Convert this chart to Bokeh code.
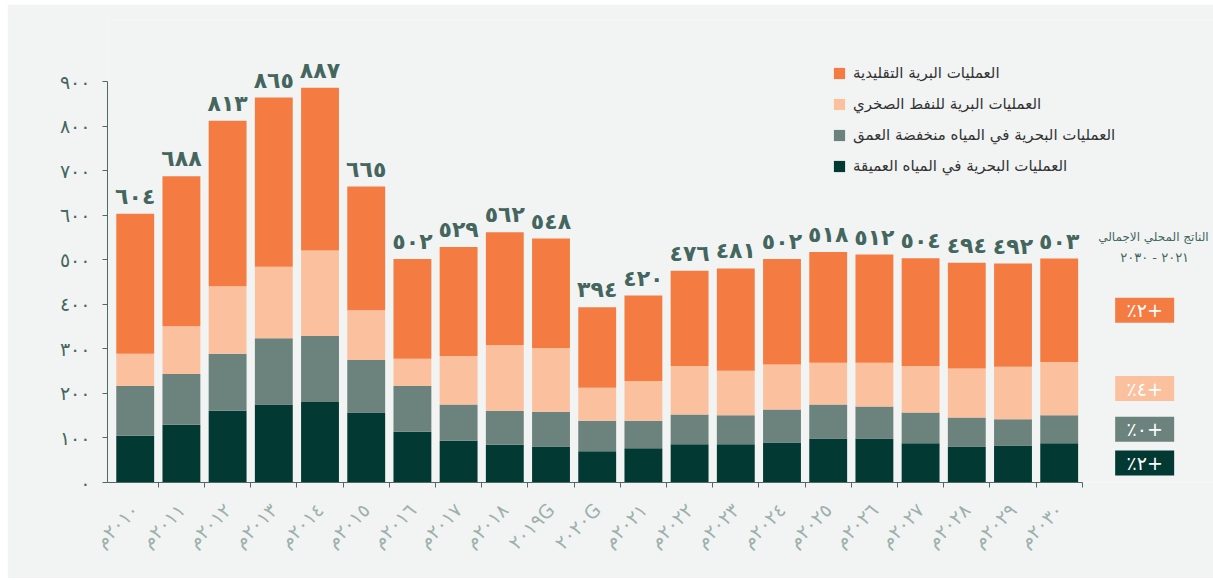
from math import pi
from bokeh.plotting import figure
from bokeh.models import Range1d, FixedTicker, Legend, LegendItem, ColumnDataSource
from bokeh.embed import file_html
from bokeh.resources import INLINE
from bokeh.core.properties import value

# ---------------- data ----------------
years = ["٢٠١٠م", "٢٠١١م", "٢٠١٢م", "٢٠١٣م", "٢٠١٤م", "٢٠١٥م", "٢٠١٦م",
         "٢٠١٧م", "٢٠١٨م", "٢٠١٩G", "٢٠٢٠G", "٢٠٢١م", "٢٠٢٢م", "٢٠٢٣م",
         "٢٠٢٤م", "٢٠٢٥م", "٢٠٢٦م", "٢٠٢٧م", "٢٠٢٨م", "٢٠٢٩م", "٢٠٣٠م"]

deep_water = [105, 130, 161, 175, 181, 157, 114, 94, 85, 81, 70, 77, 86, 86, 90, 99, 99, 88, 81, 83, 88]
shallow_water = [112, 114, 128, 149, 148, 118, 103, 81, 76, 78, 69, 62, 67, 65, 74, 76, 72, 69, 65, 59, 63]
shale_oil = [72, 107, 152, 161, 192, 112, 61, 109, 148, 143, 74, 89, 109, 100, 101, 94, 98, 105, 110, 118, 120]
conventional = [315, 337, 372, 380, 366, 278, 224, 245, 253, 246, 181, 192, 214, 230, 237, 249, 243, 242, 238, 232, 232]

series_names = ["العمليات البحرية في المياه العميقة",
                "العمليات البحرية في المياه منخفضة العمق",
                "العمليات البرية للنفط الصخري",
                "العمليات البرية التقليدية"]
growth_labels = ["٪٢+", "٪٠+", "٪٤+", "٪٢+"]   # same order as series_names
growth_title = ["الناتج المحلي الاجمالي", "٢٠٢١ - ٢٠٣٠"]
y_ticks = [0, 100, 200, 300, 400, 500, 600, 700, 800, 900]

# ---------------- style ----------------
BG = "#f2f4f3"
COLORS = ["#033933", "#6c827d", "#fbc19f", "#f47c43"]
AXIS = "#4f6a64"
LABEL = "#44665e"
FONT_NAME = "DejaVu Sans"
FONT = value(FONT_NAME)


def ar(n):
    return str(n).translate(str.maketrans("0123456789", "٠١٢٣٤٥٦٧٨٩"))


keys = ["deep", "shallow", "shale", "conv"]
idx = list(range(len(years)))
totals = [a + b + c + d for a, b, c, d in zip(deep_water, shallow_water, shale_oil, conventional)]
src = ColumnDataSource(dict(x=idx, deep=deep_water, shallow=shallow_water, shale=shale_oil,
                            conv=conventional, total=totals, lab=[ar(t) for t in totals]))

p = figure(width=1206, height=574, x_range=Range1d(-0.6, 23.34), y_range=Range1d(0, 1038),
           output_backend="svg", toolbar_location=None, margin=(4, 0, 0, 7),
           min_border_left=100, min_border_right=0, min_border_top=16, min_border_bottom=96,
           background_fill_color=BG, border_fill_color=BG, outline_line_color=None)
p.grid.visible = False

rs = p.vbar_stack(keys, x="x", width=0.82, color=COLORS, line_color=None, source=src)

p.text(x="x", y="total", text="lab", source=src, text_align="center", text_baseline="bottom",
       y_offset=-5, text_font=FONT, text_font_size="22px", text_font_style="bold", text_color=LABEL)

# growth column next to the last bar, centred on each segment of the last stack
last = [deep_water[-1], shallow_water[-1], shale_oil[-1], conventional[-1]]
mids, base = [], 0
for v in last:
    mids.append(base + v / 2)
    base += v
xcol = idx[-1] + 1.85
p.rect(x=[xcol] * 4, y=mids, width=59, height=25, width_units="screen", height_units="screen",
       fill_color=COLORS, line_color=None)
p.text(x=[xcol] * 4, y=mids, text=growth_labels, text_align="center", text_baseline="middle",
       text_font=FONT, text_font_size="19px", text_color="white")
p.text(x=[xcol], y=[mids[-1]], text=[growth_title[0]], x_offset=64, y_offset=-73,
       text_align="right", text_baseline="middle", text_font=FONT, text_font_size="12px",
       text_color=LABEL)
p.text(x=[xcol], y=[mids[-1]], text=[growth_title[1]], x_offset=10, y_offset=-53,
       text_align="center", text_baseline="middle", text_font=FONT, text_font_size="13px",
       text_color=LABEL)

# x axis
xa = p.xaxis[0]
xa.ticker = FixedTicker(ticks=idx, minor_ticks=[i + 0.5 for i in idx])
xa.major_label_overrides = {i: years[i] for i in idx}
xa.major_label_orientation = pi / 4
xa.major_tick_line_color = None
xa.minor_tick_line_color = AXIS
xa.minor_tick_out = 5
xa.minor_tick_in = 0
xa.axis_line_color = AXIS
xa.bounds = (-0.6, idx[-1] + 0.5)
xa.major_label_text_font = FONT_NAME
xa.major_label_text_font_size = "19px"
xa.major_label_text_color = "#9db0ac"
xa.major_label_standoff = 18

# y axis
ya = p.yaxis[0]
ya.ticker = FixedTicker(ticks=y_ticks, minor_ticks=[])
ya.major_label_overrides = {t: ar(t) for t in y_ticks}
ya.bounds = (0, 900)
ya.axis_line_color = AXIS
ya.major_tick_line_color = AXIS
ya.major_tick_out = 5
ya.major_tick_in = 0
ya.minor_tick_line_color = None
ya.major_label_text_font = FONT_NAME
ya.major_label_text_font_size = "19px"
ya.major_label_text_color = LABEL
ya.major_label_standoff = 12

legend = Legend(items=[LegendItem(label=series_names[i], renderers=[rs[i]]) for i in [3, 2, 1, 0]],
                location=(725, 306), padding=0, margin=0, spacing=10,
                glyph_width=14, glyph_height=14, label_height=21, label_standoff=7,
                label_text_font=FONT_NAME, label_text_font_size="15px", label_text_color="#333333",
                background_fill_alpha=0, border_line_alpha=0)
p.add_layout(legend)

open("out.html", "w").write(file_html(p, INLINE))
